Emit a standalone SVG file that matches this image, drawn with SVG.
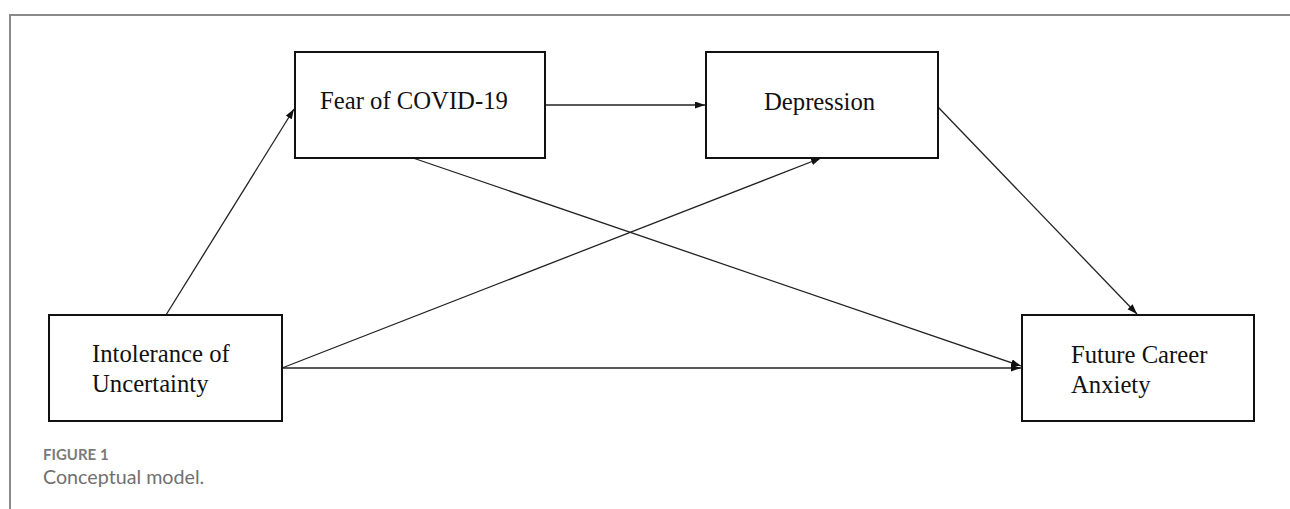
<svg xmlns="http://www.w3.org/2000/svg" width="1290" height="509" viewBox="0 0 1290 509">
<style>
.box{fill:#fff;stroke:#111;stroke-width:2}
.lbl{font-family:"Liberation Serif","Times New Roman",serif;font-size:24.7px;fill:#111}
.con{stroke:#222;stroke-width:1.3;fill:none;marker-end:url(#ah)}
.frame{stroke:#8a8a8a;stroke-width:2;fill:none}
.cap1{font-family:Lato,"Open Sans",sans-serif;font-size:15px;font-weight:bold;fill:#7a7a7a}
.cap2{font-family:Lato,"Open Sans",sans-serif;font-size:19.7px;fill:#707070}
</style>
<defs>
<marker id="ah" markerUnits="userSpaceOnUse" markerWidth="11" markerHeight="8" refX="10" refY="3.5" orient="auto">
<path d="M0,0 L10,3.5 L0,7 z" fill="#111"/>
</marker>
</defs>
<rect width="1290" height="509" fill="#fff"/>
<path class="frame" d="M10,509 L10,15 L1290,15"/>
<g id="connectors">
<line class="con" x1="166" y1="315" x2="294" y2="109"/>
<line class="con" x1="545" y1="105" x2="705" y2="105"/>
<line class="con" x1="282" y1="368" x2="821" y2="158"/>
<line class="con" x1="282" y1="368" x2="1021" y2="368"/>
<line class="con" x1="413" y1="158" x2="1021" y2="366"/>
<line class="con" x1="938" y1="107" x2="1137" y2="314"/>
</g>
<g id="fear">
<rect class="box" x="295" y="52" width="250" height="106"/>
<text class="lbl" x="320" y="109">Fear of COVID-19</text>
</g>
<g id="depression">
<rect class="box" x="706" y="52" width="232" height="106"/>
<text class="lbl" x="764" y="110">Depression</text>
</g>
<g id="intolerance">
<rect class="box" x="49" y="315" width="233" height="106"/>
<text class="lbl" x="92" y="362">Intolerance of</text>
<text class="lbl" x="92" y="392">Uncertainty</text>
</g>
<g id="future">
<rect class="box" x="1022" y="315" width="232" height="106"/>
<text class="lbl" x="1071" y="363">Future Career</text>
<text class="lbl" x="1071" y="393">Anxiety</text>
</g>
<g id="caption">
<text class="cap1" x="43" y="460">FIGURE 1</text>
<text class="cap2" x="43" y="484">Conceptual model.</text>
</g>
</svg>
